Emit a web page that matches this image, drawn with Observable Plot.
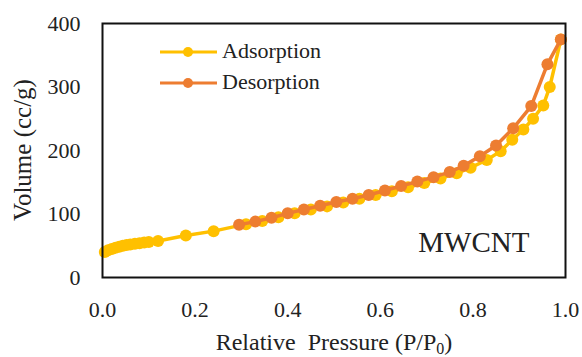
<!DOCTYPE html>
<html>
<head>
<meta charset="utf-8">
<script src="https://cdn.jsdelivr.net/npm/d3@7"></script>
<script src="https://cdn.jsdelivr.net/npm/@observablehq/plot@0.6"></script>
<style>
  body { margin: 0; background: #fff; }
  #chart svg, #chart svg text {
    font-family: "Liberation Serif", "Times New Roman", Times, "DejaVu Serif", serif;
  }
  #chart svg text { fill: #222; }
</style>
</head>
<body>
<div id="chart"></div>
<script>
// N2 isotherm of MWCNT: relative pressure P/P0 vs adsorbed volume (cc/g)
const adsorptionP = [0.005, 0.012, 0.02, 0.028, 0.036, 0.044, 0.052, 0.06, 0.07, 0.08, 0.09, 0.10, 0.12,
  0.18, 0.24, 0.31, 0.345, 0.38, 0.415, 0.45, 0.485, 0.52, 0.555, 0.59, 0.625, 0.66, 0.695, 0.73,
  0.765, 0.795, 0.83, 0.86, 0.885, 0.909, 0.93, 0.952, 0.966, 0.99];
const adsorptionV = [40, 43, 45, 47, 48.5, 50, 51, 52, 53, 54, 55, 56, 57.5,
  66, 73, 84, 89, 95, 101, 107, 112, 118, 124, 130, 136, 142, 149, 156,
  164, 173, 185, 199, 217, 233, 250, 271, 300, 375];

const desorptionP = [0.295, 0.33, 0.365, 0.40, 0.435, 0.47, 0.505, 0.54, 0.575, 0.61, 0.645, 0.68,
  0.715, 0.75, 0.78, 0.815, 0.85, 0.887, 0.926, 0.961, 0.99];
const desorptionV = [83, 88, 94, 101, 107, 113, 119, 124, 130, 137, 144, 151,
  158, 166, 176, 191, 208, 235, 270, 336, 375];

const seriesNames = ["Adsorption", "Desorption"];
const seriesColors = ["#FFC000", "#ED7D31"];
const xTicks = [0, 0.2, 0.4, 0.6, 0.8, 1.0];
const yTicks = [0, 100, 200, 300, 400];
const sampleLabel = "MWCNT";

const adsorption = adsorptionP.map((p, i) => ({p, v: adsorptionV[i]}));
const desorption = desorptionP.map((p, i) => ({p, v: desorptionV[i]}));

const serif = "Liberation Serif, Times New Roman, serif";

const chart = Plot.plot({
  width: 582,
  height: 357,
  marginLeft: 102,
  marginRight: 17,
  marginTop: 23,
  marginBottom: 80,
  style: {fontFamily: serif, background: "#fff"},
  x: {domain: [0, 1]},
  y: {domain: [0, 400]},
  marks: [
    Plot.axisX({ticks: xTicks, tickFormat: d3.format(".1f"), tickSize: 0, tickPadding: 24,
      fontSize: 22, label: null}),
    Plot.axisY({ticks: yTicks, tickSize: 0, tickPadding: 22, fontSize: 22, label: null}),
    Plot.line(adsorption, {x: "p", y: "v", stroke: seriesColors[0], strokeWidth: 3.5}),
    Plot.dot(adsorption, {x: "p", y: "v", r: 6, fill: seriesColors[0]}),
    Plot.line(desorption, {x: "p", y: "v", stroke: seriesColors[1], strokeWidth: 3.5}),
    Plot.dot(desorption, {x: "p", y: "v", r: 6, fill: seriesColors[1]}),
    Plot.text([sampleLabel], {frameAnchor: "bottom-right", dx: -36, dy: -26, fontSize: 29,
      textAnchor: "end", lineAnchor: "bottom", fill: "#222"}),
    Plot.frame({stroke: "#111", strokeWidth: 2})
  ]
});

document.getElementById("chart").appendChild(chart);

// axis titles and legend
const svg = d3.select(chart);

const xTitle = svg.append("text")
  .attr("x", 334).attr("y", 350)
  .attr("text-anchor", "middle")
  .attr("font-size", 24);
xTitle.append("tspan").text("Relative\u00a0 Pressure (P/P");
xTitle.append("tspan").attr("font-size", 16).attr("dy", 4).text("0");
xTitle.append("tspan").attr("dy", -4).text(")");

svg.append("text")
  .attr("transform", "translate(31,150) rotate(-90)")
  .attr("text-anchor", "middle")
  .attr("font-size", 25)
  .text("Volume (cc/g)");

const legend = svg.append("g");
seriesNames.forEach((name, i) => {
  const y = 52 + i * 31;
  legend.append("line")
    .attr("x1", 160).attr("x2", 217).attr("y1", y).attr("y2", y)
    .attr("stroke", seriesColors[i]).attr("stroke-width", 3);
  legend.append("circle")
    .attr("cx", 188).attr("cy", y).attr("r", 5)
    .attr("fill", seriesColors[i]);
  legend.append("text")
    .attr("x", 222).attr("y", y + 6)
    .attr("text-anchor", "start")
    .attr("font-size", 22)
    .text(name);
});
</script>
</body>
</html>
